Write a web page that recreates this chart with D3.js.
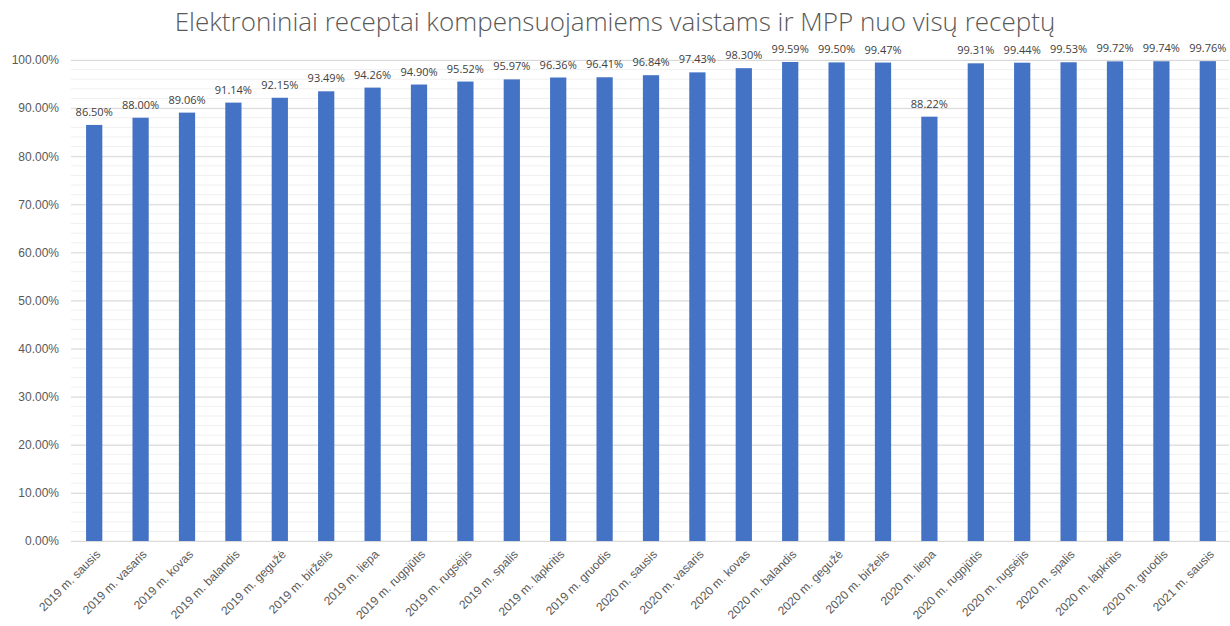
<!DOCTYPE html>
<html>
<head>
<meta charset="utf-8">
<script src="https://cdn.jsdelivr.net/npm/d3@7"></script>
<style>
  body { margin: 0; background: #fff; }
  svg { display: block; font-family: "Open Sans", "Noto Sans", sans-serif; }
</style>
</head>
<body>
<svg id="chart" width="1230" height="626"></svg>
<script>
// data
var months = ["2019 m. sausis","2019 m. vasaris","2019 m. kovas","2019 m. balandis","2019 m. gegužė",
  "2019 m. birželis","2019 m. liepa","2019 m. rugpjūtis","2019 m. rugsėjis","2019 m. spalis",
  "2019 m. lapkritis","2019 m. gruodis","2020 m. sausis","2020 m. vasaris","2020 m. kovas",
  "2020 m. balandis","2020 m. gegužė","2020 m. birželis","2020 m. liepa","2020 m. rugpjūtis",
  "2020 m. rugsėjis","2020 m. spalis","2020 m. lapkritis","2020 m. gruodis","2021 m. sausis"];
var shares = [86.50,88.00,89.06,91.14,92.15,93.49,94.26,94.90,95.52,95.97,96.36,96.41,96.84,97.43,
  98.30,99.59,99.50,99.47,88.22,99.31,99.44,99.53,99.72,99.74,99.76];
var majorTicks = [0,10,20,30,40,50,60,70,80,90,100];
var minorTicks = d3.range(0, 101, 2);
var title = "Elektroniniai receptai kompensuojamiems vaistams ir MPP nuo visų receptų";

var svg = d3.select("#chart");
var plotL = 71, plotR = 1231, plotT = 60, plotB = 541;

var x = d3.scaleBand().domain(months).range([plotL, plotR]).paddingInner(0.65).paddingOuter(0.325);
var y = d3.scaleLinear().domain([0, 100]).range([plotB, plotT]);

svg.append("text").attr("x", 615).attr("y", 31).attr("text-anchor", "middle")
  .attr("font-size", "26px").attr("fill", "#595959").attr("font-weight", 300).text(title);

// minor grid
svg.append("g").selectAll("line").data(minorTicks).join("line")
  .attr("x1", plotL).attr("x2", plotR - 2)
  .attr("y1", function(d){ return y(d); }).attr("y2", function(d){ return y(d); })
  .attr("stroke", "#f0f0f0").attr("stroke-width", 1);

// major grid + labels via axis
var yAxis = d3.axisLeft(y).tickValues(majorTicks)
  .tickFormat(function(d){ return d.toFixed(2) + "%"; })
  .tickSize(-(plotR - 2 - plotL)).tickPadding(12);
var gy = svg.append("g").attr("transform", "translate(" + plotL + ",0)").call(yAxis);
gy.select(".domain").remove();
gy.selectAll(".tick line").attr("stroke", "#d9d9d9");
gy.selectAll(".tick text").attr("font-size", "12px").attr("fill", "#595959");

// bars
svg.append("g").selectAll("rect").data(shares).join("rect")
  .attr("x", function(d, i){ return x(months[i]); })
  .attr("width", x.bandwidth())
  .attr("y", function(d){ return y(d); })
  .attr("height", function(d){ return y(0) - y(d); })
  .attr("fill", "#4472c4");

// value labels
svg.append("g").selectAll("text").data(shares).join("text")
  .attr("x", function(d, i){ return x(months[i]) + x.bandwidth() / 2; })
  .attr("y", function(d){ return y(d) - 9; })
  .attr("text-anchor", "middle").attr("font-size", "11px").attr("fill", "#404040")
  .text(function(d){ return d.toFixed(2) + "%"; });

// x axis
var xAxis = d3.axisBottom(x).tickSize(0).tickPadding(0);
var gx = svg.append("g").attr("transform", "translate(0," + plotB + ")").call(xAxis);
gx.select(".domain").attr("stroke", "#d9d9d9");
gx.selectAll(".tick text")
  .attr("font-size", "12px").attr("fill", "#595959")
  .attr("text-anchor", "end")
  .attr("dy", 0)
  .attr("transform", "translate(7,14) rotate(-45)");
</script>
</body>
</html>
